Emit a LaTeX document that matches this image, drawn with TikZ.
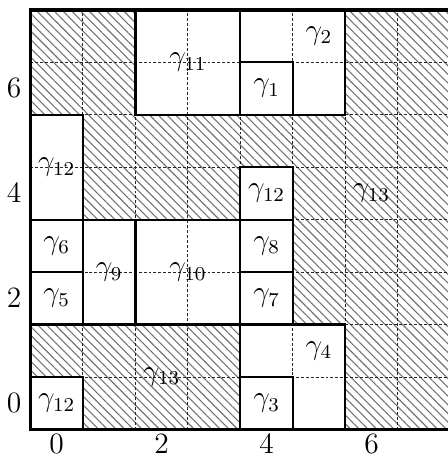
\documentclass[tikz,border=0pt]{standalone}
\usetikzlibrary{patterns.meta}
\begin{document}
\begin{tikzpicture}[x=0.75cm,y=0.75cm,
  every node/.style={font=\fontsize{12}{14}\selectfont},
  hatch/.style={pattern={Lines[angle=-45,distance=2.5pt,line width=0.45pt]},pattern color=black!55},
  gridline/.style={line width=0.4pt,dash pattern=on 1.2pt off 0.8pt,black!85},
  region/.style={line width=0.9pt},
  frame/.style={line width=1.6pt},
  lab/.style={inner sep=1pt},
  tick/.style={inner sep=0pt}]
\useasboundingbox (-1.081,-1.1) rectangle (7.452,7.686);
% hatched regions
\fill[hatch] (-0.5,7.5) -- (1.5,7.5) -- (1.5,5.5) -- (5.5,5.5) -- (5.5,7.5) -- (7.5,7.5)
  -- (7.5,-0.5) -- (5.5,-0.5) -- (5.5,1.5) -- (4.5,1.5) -- (4.5,4.5) -- (3.5,4.5)
  -- (3.5,3.5) -- (0.5,3.5) -- (0.5,5.5) -- (-0.5,5.5) -- cycle;
\fill[hatch] (-0.5,1.5) -- (3.5,1.5) -- (3.5,-0.5) -- (0.5,-0.5) -- (0.5,0.5) -- (-0.5,0.5) -- cycle;
% dashed grid
\foreach \k in {0.5,1.5,...,6.5} {
  \draw[gridline] (\k,-0.5) -- (\k,7.5);
  \draw[gridline] (-0.5,\k) -- (7.5,\k);
}
% region borders
\draw[region] (1.5,5.5) rectangle (3.5,7.5);
\draw[region] (3.5,5.5) rectangle (5.5,7.5);
\draw[region] (3.5,5.5) rectangle (4.5,6.5);
\draw[region] (-0.5,3.5) rectangle (0.5,5.5);
\draw[region] (3.5,3.5) rectangle (4.5,4.5);
\draw[region] (-0.5,2.5) rectangle (0.5,3.5);
\draw[region] (-0.5,1.5) rectangle (0.5,2.5);
\draw[region] (0.5,1.5) rectangle (1.5,3.5);
\draw[region] (1.5,1.5) rectangle (3.5,3.5);
\draw[region] (3.5,2.5) rectangle (4.5,3.5);
\draw[region] (3.5,1.5) rectangle (4.5,2.5);
\draw[region] (3.5,-0.5) rectangle (5.5,1.5);
\draw[region] (3.5,-0.5) rectangle (4.5,0.5);
\draw[region] (-0.5,-0.5) rectangle (0.5,0.5);
\draw[region] (-0.5,1.5) -- (5.5,1.5);
% outer frame
\draw[frame] (-0.5,-0.5) rectangle (7.5,7.5);
% labels
\node[lab] (g11) at (2.5,6.5) {$\gamma_{11}$};
\node[lab] (g1) at (4,6) {$\gamma_{1}$};
\node[lab] (g2) at (5,7) {$\gamma_{2}$};
\node[lab] (g12a) at (0,4.5) {$\gamma_{12}$};
\node[lab] (g12b) at (4,4) {$\gamma_{12}$};
\node[lab] (g13a) at (6,4) {$\gamma_{13}$};
\node[lab] (g6) at (0,3) {$\gamma_{6}$};
\node[lab] (g5) at (0,2) {$\gamma_{5}$};
\node[lab] (g9) at (1,2.5) {$\gamma_{9}$};
\node[lab] (g10) at (2.5,2.5) {$\gamma_{10}$};
\node[lab] (g8) at (4,3) {$\gamma_{8}$};
\node[lab] (g7) at (4,2) {$\gamma_{7}$};
\node[lab] (g4) at (5,1) {$\gamma_{4}$};
\node[lab] (g3) at (4,0) {$\gamma_{3}$};
\node[lab] (g12c) at (0,0) {$\gamma_{12}$};
\node[lab] (g13b) at (2,0.5) {$\gamma_{13}$};
% axis ticks
\node[tick] (x0) at (0,-0.78) {$0$};
\node[tick] (x2) at (2,-0.78) {$2$};
\node[tick] (x4) at (4,-0.78) {$4$};
\node[tick] (x6) at (6,-0.78) {$6$};
\node[tick] (y0) at (-0.81,0) {$0$};
\node[tick] (y2) at (-0.81,2) {$2$};
\node[tick] (y4) at (-0.81,4) {$4$};
\node[tick] (y6) at (-0.81,6) {$6$};
\end{tikzpicture}
\end{document}
